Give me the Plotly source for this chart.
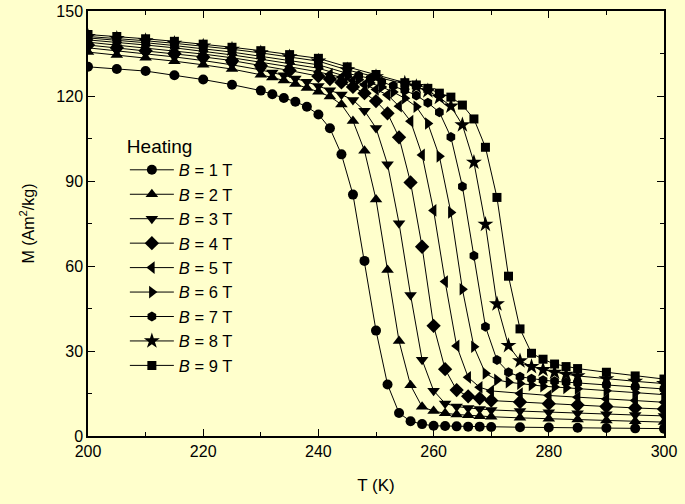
import plotly.graph_objects as go

# Magnetization vs temperature on heating, for fields B = 1 ... 9 T
T_1T = [200, 205, 210, 215, 220, 225, 230, 232, 234, 236, 238, 240, 242, 244, 246, 248, 250,
        252, 254, 256, 258, 260, 262, 264, 266, 268, 270, 275, 280, 285, 290, 295, 300]
M_1T = [130.3, 129.5, 128.8, 127.3, 125.8, 124.0, 121.9, 120.6, 119.3, 118.0, 116.2, 113.5, 108.6,
        99.4, 85.2, 61.8, 37.2, 18.2, 8.1, 5.2, 4.2, 3.6, 3.5, 3.4, 3.3, 3.3, 3.2, 3.1, 3.0, 2.9,
        2.8, 2.7, 2.6]

T_2T = [200, 205, 210, 215, 220, 225, 230, 232, 234, 236, 238, 240, 242, 244, 246, 248, 250,
        252, 254, 256, 258, 260, 262, 264, 266, 268, 270, 275, 280, 285, 290, 295, 300]
M_2T = [135.5, 134.5, 133.5, 132.3, 131.0, 129.5, 127.5, 126.5, 125.5, 124.2, 122.8, 121.5, 119.8,
        117.0, 111.2, 100.7, 83.5, 58.6, 33.5, 17.9, 10.3, 8.8, 8.0, 7.6, 7.3, 7.0, 6.8, 6.4, 6.1,
        5.8, 5.5, 5.2, 4.9]

T_3T = [200, 205, 210, 215, 220, 225, 230, 232, 234, 236, 238, 240, 242, 244, 246, 248, 250,
        252, 254, 256, 258, 260, 262, 264, 266, 268, 270, 275, 280, 285, 290, 295, 300]
M_3T = [137.0, 136.0, 135.0, 133.8, 132.5, 131.0, 129.2, 128.3, 127.3, 126.2, 125.0, 123.5, 122.0,
        120.5, 118.6, 114.8, 108.7, 95.9, 75.1, 49.8, 26.9, 16.0, 11.5, 10.4, 9.9, 9.5, 9.2, 8.8,
        8.4, 8.0, 7.7, 7.4, 7.1]

T_4T = [200, 205, 210, 215, 220, 225, 230, 235, 240, 242, 244, 246, 248, 250, 252, 254, 256,
        258, 260, 262, 264, 266, 268, 270, 275, 280, 285, 290, 295, 300]
M_4T = [138.0, 137.0, 136.0, 135.0, 133.8, 132.5, 130.8, 129.0, 127.0, 126.0, 124.8, 123.2, 121.0,
        118.2, 113.9, 105.4, 89.5, 66.8, 38.9, 23.6, 16.2, 14.0, 13.3, 12.5, 12.0, 11.4, 10.9,
        10.4, 9.9, 9.5]

T_5T = [200, 205, 210, 215, 220, 225, 230, 235, 240, 242, 244, 246, 248, 250, 252, 254, 256,
        258, 260, 262, 264, 266, 268, 270, 275, 280, 285, 290, 295, 300]
M_5T = [139.0, 138.0, 137.0, 136.0, 134.8, 133.5, 132.0, 130.3, 128.5, 127.6, 126.6, 125.4, 124.0,
        122.3, 120.4, 116.4, 111.1, 99.2, 79.6, 54.5, 31.8, 20.7, 17.2, 15.9, 15.0, 14.3, 13.7,
        13.1, 12.5, 11.9]

T_6T = [200, 205, 210, 215, 220, 225, 230, 235, 240, 245, 247, 249, 251, 253, 255, 257, 259,
        261, 263, 265, 267, 269, 271, 273, 275, 277, 279, 281, 283, 285, 290, 295, 300]
M_6T = [139.8, 139.0, 138.0, 137.0, 135.8, 134.5, 133.0, 131.5, 129.8, 126.8, 125.8, 124.6, 123.2,
        121.4, 119.2, 116.2, 110.3, 98.7, 78.9, 51.8, 31.5, 22.1, 19.8, 19.0, 18.5, 18.0, 17.6,
        17.3, 17.0, 16.7, 16.0, 15.3, 14.6]

T_7T = [200, 205, 210, 215, 220, 225, 230, 235, 240, 245, 247, 249, 251, 253, 255, 257, 259,
        261, 263, 265, 267, 269, 271, 273, 275, 277, 279, 281, 283, 285, 290, 295, 300]
M_7T = [140.5, 139.7, 138.8, 137.8, 136.7, 135.5, 134.0, 132.5, 131.0, 128.0, 127.2, 126.2, 125.0,
        123.6, 122.0, 120.2, 117.6, 114.3, 105.5, 88.1, 63.6, 38.6, 26.8, 22.5, 20.9, 20.2, 19.7,
        19.3, 19.0, 18.7, 18.0, 17.3, 16.6]

T_8T = [200, 205, 210, 215, 220, 225, 230, 235, 240, 245, 250, 255, 257, 259, 261, 263, 265,
        267, 269, 271, 273, 275, 277, 279, 281, 283, 285, 290, 295, 300]
M_8T = [141.0, 140.3, 139.5, 138.6, 137.6, 136.5, 135.2, 133.8, 132.3, 129.2, 126.8, 124.5, 123.3,
        121.8, 119.5, 116.4, 109.8, 96.6, 74.7, 46.6, 31.9, 26.5, 24.5, 23.4, 22.5, 21.8, 21.2,
        20.2, 19.3, 18.5]

T_9T = [200, 205, 210, 215, 220, 225, 230, 235, 240, 245, 250, 255, 257, 259, 261, 263, 265,
        267, 269, 271, 273, 275, 277, 279, 281, 283, 285, 290, 295, 300]
M_9T = [141.7, 141.0, 140.2, 139.3, 138.3, 137.2, 136.0, 134.6, 133.3, 130.3, 127.6, 124.7, 123.9,
        122.7, 121.0, 119.6, 116.8, 111.9, 101.9, 84.2, 56.4, 37.8, 29.2, 27.1, 25.4, 24.5, 23.8,
        22.5, 21.2, 20.1]

fields = ["1", "2", "3", "4", "5", "6", "7", "8", "9"]
temps = [T_1T, T_2T, T_3T, T_4T, T_5T, T_6T, T_7T, T_8T, T_9T]
moments = [M_1T, M_2T, M_3T, M_4T, M_5T, M_6T, M_7T, M_8T, M_9T]
symbols = ["circle", "triangle-up", "triangle-down", "diamond", "triangle-left",
           "triangle-right", "hexagon", "star", "square"]
sizes = [10, 11, 11, 11, 11, 11, 10, 12, 9]

x_ticks = [200, 220, 240, 260, 280, 300]
y_ticks = [0, 30, 60, 90, 120, 150]

BG = "#FFFFCC"
FONT = "Liberation Sans, Arial, sans-serif"

fig = go.Figure()
for b, t, m, sym, sz in zip(fields, temps, moments, symbols, sizes):
    fig.add_trace(go.Scatter(
        x=t, y=m, mode="lines+markers",
        name=f"<i>B</i> = {b} T",
        line=dict(color="black", width=1),
        marker=dict(symbol=sym, size=sz, color="black", line=dict(width=0)),
    ))

axis_common = dict(
    showline=True, linecolor="black", linewidth=1.5, mirror="ticks",
    ticks="inside", ticklen=7, tickwidth=1.2, tickcolor="black",
    showgrid=False, zeroline=False, automargin=False,
    tickfont=dict(family=FONT, size=16, color="black"),
)

fig.update_xaxes(
    range=[200, 300], tickvals=x_ticks,
    minor=dict(ticks="inside", ticklen=4, tickwidth=1.2, tickcolor="black", dtick=10,
               tick0=200, showgrid=False),
    title=dict(text="T (K)", font=dict(family=FONT, size=17, color="black"), standoff=20),
    **axis_common,
)
fig.update_yaxes(
    range=[0, 150], tickvals=y_ticks,
    minor=dict(ticks="inside", ticklen=4, tickwidth=1.2, tickcolor="black", dtick=15,
               tick0=0, showgrid=False),
    title=dict(text="M (Am<sup>2</sup>/kg)", font=dict(family=FONT, size=16, color="black"),
               standoff=18),
    **axis_common,
)

fig.update_layout(
    width=685, height=504,
    margin=dict(l=88, r=21, t=11, b=68),
    paper_bgcolor=BG, plot_bgcolor=BG,
    font=dict(family=FONT, color="black"),
    legend=dict(
        title=dict(text="Heating", font=dict(family=FONT, size=19, color="black")),
        font=dict(family=FONT, size=16.5, color="black"),
        x=0.064, y=0.725, xanchor="left", yanchor="top",
        itemwidth=44,
        bgcolor="rgba(0,0,0,0)", borderwidth=0,
        tracegroupgap=0,
    ),
    showlegend=True,
)

fig.write_html("out.html")
